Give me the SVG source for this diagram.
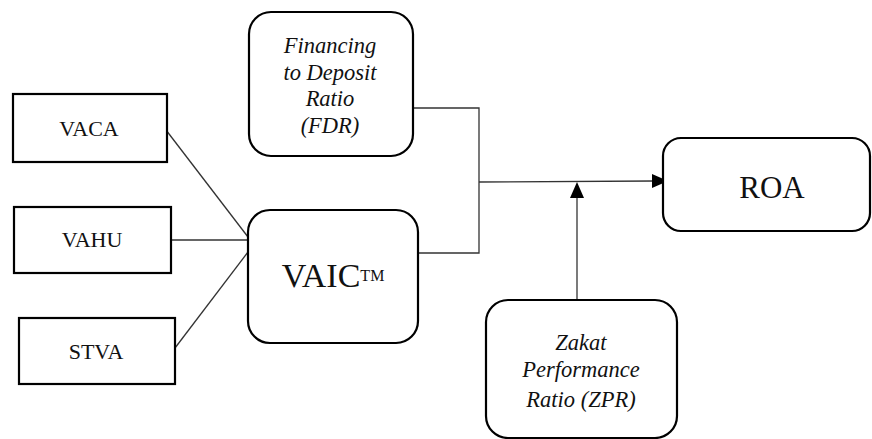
<svg xmlns="http://www.w3.org/2000/svg" width="872" height="439" viewBox="0 0 872 439">
<rect width="872" height="439" fill="#fff"/>
<g id="connectors" fill="none" stroke="#333" stroke-width="1.3">
<line x1="166" y1="130" x2="248" y2="237"/>
<line x1="171" y1="240" x2="248" y2="240"/>
<line x1="175" y1="348" x2="248" y2="252"/>
<polyline points="413,108 479,108 479,253 418,253"/>
<line x1="479" y1="182" x2="653" y2="181"/>
<polygon points="652,174 668,181 652,188" fill="#000" stroke="none"/>
<line x1="577" y1="300" x2="577" y2="197"/>
<polygon points="570,198 577,182 584,198" fill="#000" stroke="none"/>
</g>
<g id="vaca">
<rect x="13" y="94" width="154" height="68" fill="#fff" stroke="#000" stroke-width="2.2"/>
<text x="89" y="136" font-size="22" font-family="Liberation Serif" text-anchor="middle" fill="#111">VACA</text>
</g>
<g id="vahu">
<rect x="14" y="207" width="157" height="66" fill="#fff" stroke="#000" stroke-width="2.2"/>
<text x="92" y="247" font-size="22" font-family="Liberation Serif" text-anchor="middle" fill="#111">VAHU</text>
</g>
<g id="stva">
<rect x="19" y="318" width="156" height="66" fill="#fff" stroke="#000" stroke-width="2.2"/>
<text x="96" y="359" font-size="22" font-family="Liberation Serif" text-anchor="middle" fill="#111">STVA</text>
</g>
<g id="fdr">
<rect x="249" y="12" width="164" height="144" rx="22" ry="22" fill="#fff" stroke="#000" stroke-width="2.2"/>
<text x="330" y="53" font-size="22.5" font-family="Liberation Serif" font-style="italic" text-anchor="middle" fill="#111">Financing</text>
<text x="330" y="80" font-size="22.5" font-family="Liberation Serif" font-style="italic" text-anchor="middle" fill="#111">to Deposit</text>
<text x="330" y="106" font-size="22.5" font-family="Liberation Serif" font-style="italic" text-anchor="middle" fill="#111">Ratio</text>
<text x="330" y="133" font-size="22.5" font-family="Liberation Serif" font-style="italic" text-anchor="middle" fill="#111">(FDR)</text>
</g>
<g id="vaic">
<rect x="248" y="210" width="170" height="133" rx="22" ry="22" fill="#fff" stroke="#000" stroke-width="2.2"/>
<text x="333" y="287" font-size="34" font-family="Liberation Serif" text-anchor="middle" fill="#111">VAIC<tspan font-size="16" dy="-6">TM</tspan></text>
</g>
<g id="roa">
<rect x="663" y="138" width="207" height="93" rx="18" ry="18" fill="#fff" stroke="#000" stroke-width="2.2"/>
<text x="772" y="198" font-size="31" font-family="Liberation Serif" text-anchor="middle" fill="#111">ROA</text>
</g>
<g id="zpr">
<rect x="486" y="300" width="191" height="138" rx="22" ry="22" fill="#fff" stroke="#000" stroke-width="2.2"/>
<text x="581" y="350" font-size="22.5" font-family="Liberation Serif" font-style="italic" text-anchor="middle" fill="#111">Zakat</text>
<text x="581" y="377" font-size="22.5" font-family="Liberation Serif" font-style="italic" text-anchor="middle" fill="#111">Performance</text>
<text x="581" y="407" font-size="22.5" font-family="Liberation Serif" font-style="italic" text-anchor="middle" fill="#111">Ratio (ZPR)</text>
</g>
</svg>
